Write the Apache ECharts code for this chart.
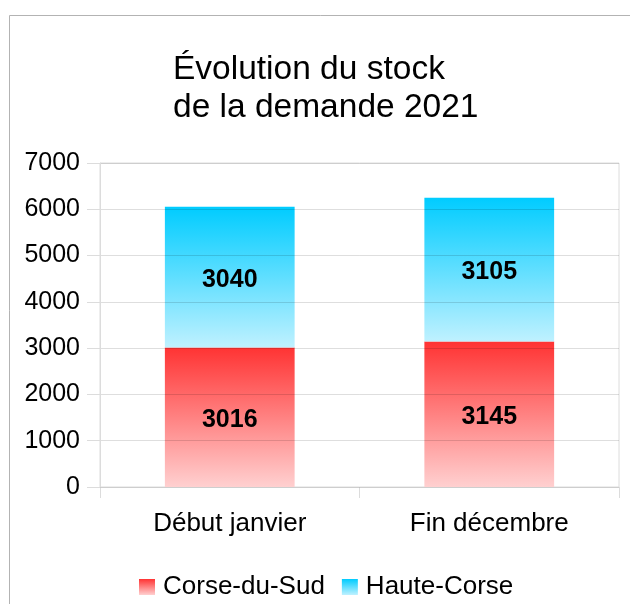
<!DOCTYPE html>
<html>
<head>
    <meta charset="utf-8">
    <title>Évolution du stock de la demande 2021</title>
    <style>
        html, body { margin: 0; padding: 0; background: #fff; }
        #chart { width: 630px; height: 604px; }
    </style>
</head>
<body>
<div id="chart"></div>
<script src="https://cdn.jsdelivr.net/npm/echarts@6/dist/echarts.min.js"></script>
<script>
    // données
    var categories = ['Début janvier', 'Fin décembre'];
    var corseDuSud = [3016, 3145];
    var hauteCorse = [3040, 3105];
    var yTicks = [0, 1000, 2000, 3000, 4000, 5000, 6000, 7000];

    var police = 'Liberation Sans, Arial, sans-serif';

    function degrade(haut, bas) {
        return new echarts.graphic.LinearGradient(0, 0, 0, 1, [
            { offset: 0, color: haut },
            { offset: 1, color: bas }
        ]);
    }

    var chart = echarts.init(document.getElementById('chart'));

    var option = {
        backgroundColor: '#fff',
        animation: false,
        textStyle: { fontFamily: police },
        title: {
            text: 'Évolution du stock\nde la demande 2021',
            left: 168,
            top: 46,
            textStyle: {
                fontFamily: police,
                fontSize: 33.5,
                fontWeight: 'normal',
                color: '#000',
                lineHeight: 38
            }
        },
        legend: {
            left: 134,
            top: 569,
            itemWidth: 16,
            itemHeight: 16,
            itemGap: 17,
            icon: 'rect',
            textStyle: {
                fontFamily: police,
                fontSize: 26,
                color: '#000',
                padding: [0, 0, 0, 3]
            },
            data: ['Corse-du-Sud', 'Haute-Corse']
        },
        graphic: [{
            type: 'rect',
            left: 7,
            top: 13,
            shape: { width: 700, height: 700 },
            style: { fill: 'none', stroke: '#b3b3b3', lineWidth: 1 },
            silent: true
        }],
        grid: {
            left: 100,
            right: 11,
            top: 163,
            bottom: 117,
            show: true,
            borderColor: '#dcdcdc',
            borderWidth: 1
        },
        xAxis: {
            type: 'category',
            data: categories,
            axisLine: { show: false },
            axisTick: {
                show: true,
                length: 11,
                lineStyle: { color: '#dcdcdc' }
            },
            axisLabel: {
                fontFamily: police,
                fontSize: 26,
                color: '#000',
                margin: 24
            }
        },
        yAxis: {
            type: 'value',
            min: yTicks[0],
            max: yTicks[yTicks.length - 1],
            interval: 1000,
            z: 3,
            axisLine: { show: true, lineStyle: { color: '#dcdcdc' } },
            axisTick: { show: true, length: 13, lineStyle: { color: '#dcdcdc' } },
            splitLine: { lineStyle: { color: 'rgba(0,0,0,0.13)' } },
            axisLabel: {
                fontFamily: police,
                fontSize: 25,
                color: '#000',
                margin: 20,
                formatter: function (v) { return String(v); }
            }
        },
        series: [
            {
                name: 'Corse-du-Sud',
                type: 'bar',
                stack: 'total',
                barWidth: '50%',
                data: corseDuSud,
                itemStyle: { color: degrade('#ff3333', '#ffd0d0') },
                label: {
                    show: true,
                    position: 'inside',
                    offset: [0, 3],
                    fontFamily: police,
                    fontSize: 25,
                    fontWeight: 'bold',
                    color: '#000'
                }
            },
            {
                name: 'Haute-Corse',
                type: 'bar',
                stack: 'total',
                barWidth: '50%',
                data: hauteCorse,
                itemStyle: { color: degrade('#00ccff', '#bff1ff') },
                label: {
                    show: true,
                    position: 'inside',
                    offset: [0, 3],
                    fontFamily: police,
                    fontSize: 25,
                    fontWeight: 'bold',
                    color: '#000'
                }
            }
        ]
    };

    chart.setOption(option);
</script>
</body>
</html>
